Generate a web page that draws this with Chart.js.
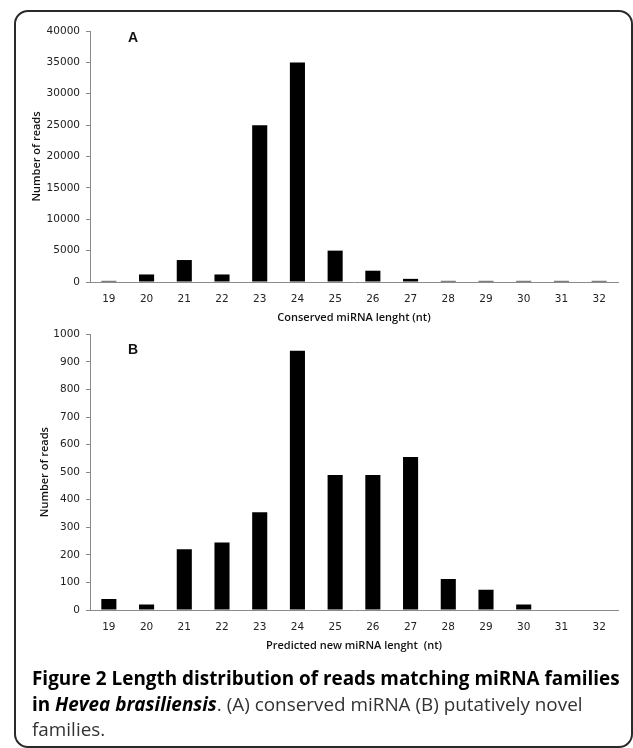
<!DOCTYPE html>
<html>
<head>
<meta charset="utf-8">
<script src="https://cdn.jsdelivr.net/npm/chart.js@4.4.1/dist/chart.umd.min.js"></script>
<style>
  body { margin: 0; background: #fff; width: 633px; height: 748px; overflow: hidden; position: relative; font-family: "Open Sans", sans-serif; }
  .frame { position: absolute; left: 14px; top: 10px; width: 615px; height: 734px; border: 2px solid #2a2a2a; border-radius: 14px; }
  canvas { position: absolute; left: 0; }
  .tag { position: absolute; font: bold 14px "Liberation Sans", Arial, sans-serif; color: #111; }
  .cap { position: absolute; left: 32px; top: 666px; font-size: 18.9px; line-height: 25.5px; color: #333; white-space: nowrap; }
  .cap b { color: #000; }
</style>
</head>
<body>
<div class="frame"></div>
<canvas id="chartA" width="633" height="330" style="top:0"></canvas>
<canvas id="chartB" width="633" height="336" style="top:322px"></canvas>
<div class="tag" style="left:128px;top:29px">A</div>
<div class="tag" style="left:128px;top:341px">B</div>
<div class="cap"><b>Figure 2 Length distribution of reads matching miRNA families</b><br><b>in <i>Hevea brasiliensis</i></b>. (A) conserved miRNA (B) putatively novel<br>families.</div>
<script>
// read lengths (nt)
const lengths = ['19', '20', '21', '22', '23', '24', '25', '26', '27', '28', '29', '30', '31', '32'];
// (A) conserved miRNA reads
const conservedReads = [180, 1200, 3500, 1200, 25000, 35000, 5000, 1800, 500, 180, 180, 180, 180, 180];
// (B) predicted new miRNA reads
const novelReads = [40, 20, 220, 245, 355, 940, 490, 490, 555, 112, 73, 20, 0, 0];

const tickFont = { family: 'DejaVu Sans', size: 10.5 };
const titleFont = { family: 'Open Sans', size: 11, weight: '600' };
const axisGray = '#8a8a8a';

function makeChart(id, values, yMax, yStep, xTitle, pad, yWidth) {
    return new Chart(document.getElementById(id), {
        type: 'bar',
        data: { labels: lengths, datasets: [{ data: values, backgroundColor: '#000', barPercentage: 0.4, categoryPercentage: 1 }] },
        options: {
            responsive: false, animation: false,
            layout: { padding: pad },
            plugins: { legend: { display: false }, tooltip: { enabled: false } },
            scales: {
                x: {
                    grid: { display: false, drawTicks: false },
                    border: { color: axisGray },
                    ticks: { color: '#222', font: tickFont, padding: 11, maxRotation: 0 },
                    title: { display: true, text: xTitle, color: '#111', font: titleFont, padding: { top: 4, bottom: 4 } },
                    afterFit: s => { s.height = 46; }
                },
                y: {
                    min: 0, max: yMax,
                    ticks: { stepSize: yStep, color: '#222', font: tickFont, padding: 6, callback: v => String(v) },
                    grid: { drawOnChartArea: false, tickLength: 4, color: axisGray },
                    border: { color: axisGray },
                    title: { display: true, text: 'Number of reads', color: '#111', font: titleFont, padding: { top: 4, bottom: 4 } },
                    afterFit: s => { s.width = yWidth; }
                }
            }
        }
    });
}

makeChart('chartA', conservedReads, 40000, 5000, 'Conserved miRNA lenght (nt)',
    { top: 31, right: 15, left: 26, bottom: 2 }, 64);
makeChart('chartB', novelReads, 1000, 100, 'Predicted new miRNA lenght  (nt)',
    { top: 11, right: 15, left: 34, bottom: 2 }, 56);
</script>
</body>
</html>
